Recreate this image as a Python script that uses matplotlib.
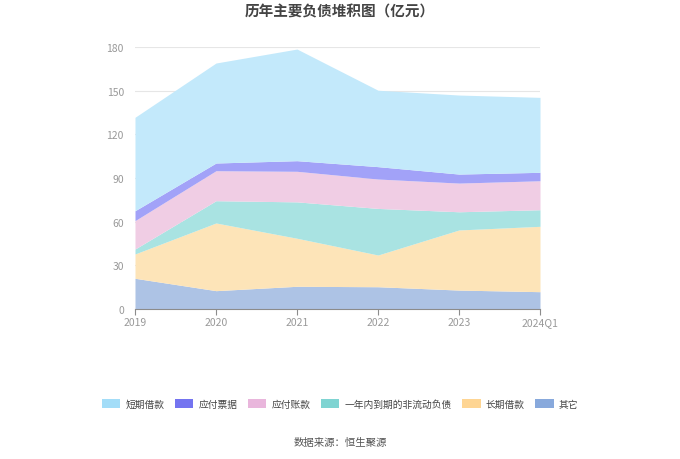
import matplotlib.pyplot as plt
from matplotlib.patches import Patch

plt.rcParams["font.family"] = ["Noto Sans CJK SC", "DejaVu Sans"]

years = ["2019", "2020", "2021", "2022", "2023", "2024Q1"]
series_names = ["短期借款", "应付票据", "应付账款", "一年内到期的非流动负债", "长期借款", "其它"]

# 亿元
short_loans = [64.2, 68.7, 76.7, 52.5, 54.3, 51.5]
notes_payable = [6.8, 5.3, 7.3, 8.5, 6.2, 5.8]
accounts_payable = [19.5, 20.6, 21.0, 20.2, 19.7, 19.9]
current_noncurrent = [3.4, 15.3, 25.0, 32.0, 12.5, 11.4]
long_loans = [16.7, 46.5, 33.0, 21.8, 41.3, 44.9]
others = [21.1, 12.6, 15.6, 15.3, 13.0, 11.9]

legend_colors = ["#a3ddf8", "#7474f0", "#e9b6dc", "#7fd4d2", "#fed593", "#88a9dc"]
fill_colors = ["#c3e9fb", "#a2a2f8", "#f0cde4", "#a9e3e2", "#fde4b8", "#adc3e5"]

fig = plt.figure(figsize=(6.8, 4.6), dpi=100)
ax = fig.add_axes([135 / 680, 1 - 310 / 460, 405 / 680, 262 / 460])

x = list(range(len(years)))
# bottom to top: 其它, 长期借款, 一年内..., 应付账款, 应付票据, 短期借款
stack = [others, long_loans, current_noncurrent, accounts_payable, notes_payable, short_loans]
stack_colors = fill_colors[::-1]
base = [0.0] * len(years)
for vals, col in zip(stack, stack_colors):
    top = [b + v for b, v in zip(base, vals)]
    ax.fill_between(x, base, top, color=col, linewidth=0, zorder=2)
    base = top

ax.set_xlim(0, len(years) - 1)
ax.set_ylim(0, 180)
ax.set_yticks(range(0, 181, 30))
ax.set_xticks(x)
ax.set_xticklabels(years)
ax.grid(axis="y", color="#e6e6e6", linewidth=0.8, zorder=0)
for s in ["left", "right", "top"]:
    ax.spines[s].set_visible(False)
ax.spines["bottom"].set_color("#8c8c8c")
ax.tick_params(axis="y", length=0, labelsize=7.5, labelcolor="#999999", pad=8)
ax.tick_params(axis="x", length=4, color="#8c8c8c", labelsize=7.5, labelcolor="#999999", pad=2)

fig.text(0.5, 1 - 12 / 460, "历年主要负债堆积图（亿元）", ha="center", va="center",
         fontsize=10.5, fontweight="bold", color="#444444")

handles = [Patch(facecolor=c, edgecolor="none") for c in legend_colors]
fig.legend(handles, series_names, loc="center", bbox_to_anchor=(0.5, 1 - 405 / 460),
           ncol=6, frameon=False, fontsize=7, handlelength=1.9, handleheight=1.1,
           handletextpad=0.5, columnspacing=1.1, labelcolor="#444444")

fig.text(0.5, 1 - 443 / 460, "数据来源：恒生聚源", ha="center", va="center",
         fontsize=7.5, color="#555555")

fig.savefig("out.png", dpi=100)
